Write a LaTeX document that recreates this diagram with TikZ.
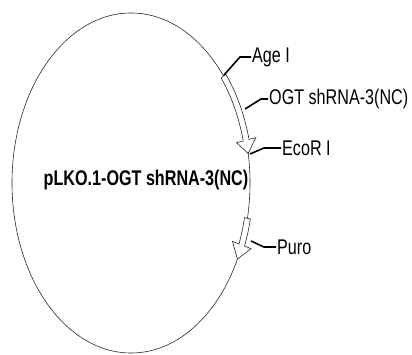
\documentclass[tikz,border=0pt]{standalone}
\usepackage{graphicx}
\usepackage{fontspec}
\setmainfont{Liberation Sans}
\usetikzlibrary{calc}
\definecolor{mapgray}{RGB}{40,40,40}

\newcommand{\tallt}[1]{\scalebox{0.95}[1.25]{#1}}
\tikzset{
  lbl/.style={anchor=west,inner sep=1pt,font=\fontsize{17}{19}\selectfont},
  leader/.style={line width=1.6pt,black},
  feat/.style={draw=mapgray,fill=white,line width=0.6pt,line join=miter},
}
% block arrow along the backbone: start angle, head base angle, tip angle
\newcommand{\featarrow}[3]{%
  \filldraw[feat] ($(c)+(#1:122pt and 173pt)$)
    arc[start angle=#1, end angle=#2, x radius=122pt, y radius=173pt]
    -- ($(c)+(#2:129pt and 180pt)$) -- ($(c)+(#3:119pt and 170pt)$)
    -- ($(c)+(#2:109pt and 160pt)$) -- ($(c)+(#2:116pt and 167pt)$)
    arc[start angle=#2, end angle=#1, x radius=116pt, y radius=167pt] -- cycle;}

\begin{document}
\begin{tikzpicture}[x=1pt,y=1pt]
  \useasboundingbox (0,0) rectangle (412,354);
  \coordinate (c) at (131,171);

  % Backbone
  \draw[mapgray,line width=0.6pt] (c) ellipse [x radius=119pt, y radius=170pt];
  \node[font=\bfseries\fontsize{17}{19}\selectfont] (name) at (146,174) {\tallt{pLKO.1-OGT shRNA-3(NC)}};

  % Features
  \featarrow{39}{14.6}{10}
  \featarrow{-12}{-21.4}{-26.6}

  % Sites and labels
  \foreach \n/\txt/\sx/\sy/\mx/\my/\lx in {age/Age I/224/279/240/297/251,
      ogt/OGT shRNA-3(NC)/245/245/261/255/268,
      eco/EcoR I/250/200/264/206/281,
      puro/Puro/251/113/264/107/276} {
    \coordinate (s\n) at (\sx,\sy);
    \node[lbl] (l\n) at (\lx,\my) {\tallt{\txt}};
    \draw[leader] (s\n) -- (\mx,\my) -- (l\n.west);
  }
\end{tikzpicture}
\end{document}
